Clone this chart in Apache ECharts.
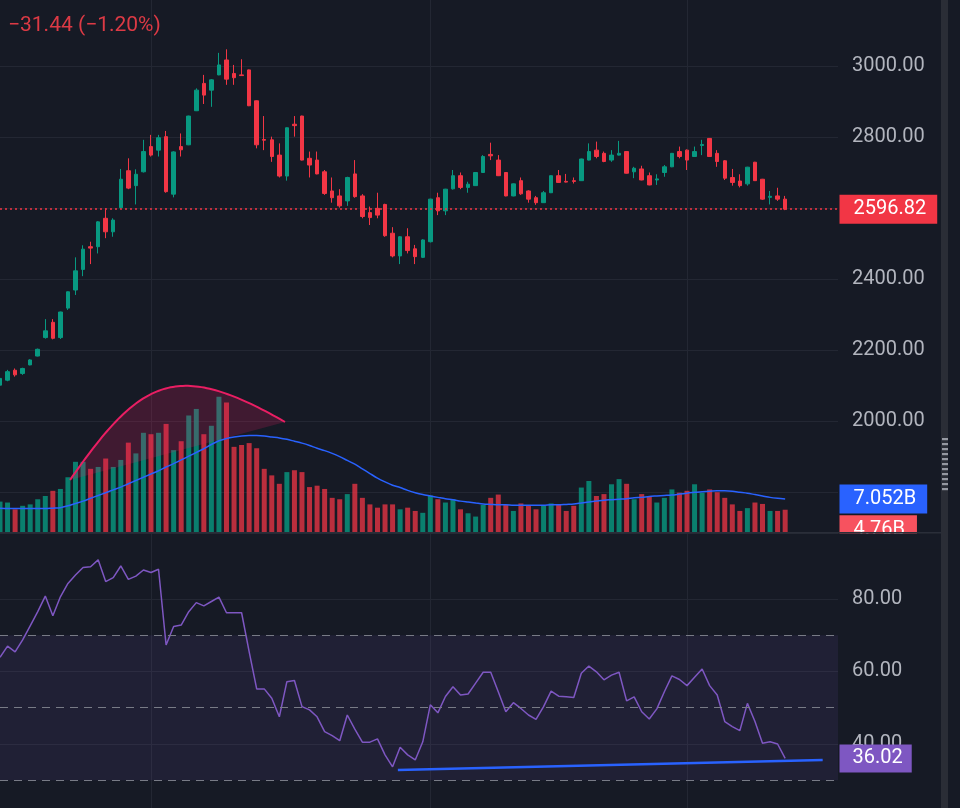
<!DOCTYPE html>
<html><head><meta charset="utf-8">
<script src="https://cdn.jsdelivr.net/npm/echarts@6/dist/echarts.min.js"></script>
<style>html,body{margin:0;padding:0;background:#161a25;}#c{width:960px;height:808px;}</style>
</head><body><div id="c"></div>
<script>
// ---------- data ----------
const slotCount = 112; // visible bar slots (incl. empty right margin)
const categories = Array.from({length: slotCount}, (_, i) => String(i));
const timeGridIdx = [20, 57, 91];

const opens = [2101,2115,2143,2134,2158,2183,2235,2278,2235,2318,
 2369,2427,2491,2491,2571,2533,2601,2705,2663,2702,
 2773,2763,2801,2639,2773,2778,2874,2951,2932,2975,
 3017,2979,2975,2989,2902,2793,2792,2749,2690,2836,
 2859,2740,2735,2702,2648,2634,2620,2696,2634,2587,
 2599,2610,2529,2465,2519,2485,2461,2505,2629,2592,
 2654,2691,2658,2663,2700,2751,2735,2700,2634,2677,
 2648,2629,2615,2643,2691,2675,2677,2677,2735,2763,
 2754,2735,2749,2759,2702,2710,2691,2679,2700,2716,
 2759,2763,2745,2776,2796,2754,2733,2686,2676,2668,
 2729,2681,2630,2634,2625];
const closes = [2120,2139,2130,2148,2172,2202,2254,2233,2307,2364,
 2423,2484,2487,2561,2533,2566,2681,2656,2695,2759,
 2749,2798,2646,2758,2764,2859,2932,2918,2961,3003,
 2963,2967,2973,2888,2778,2791,2745,2690,2826,2832,
 2735,2721,2696,2641,2629,2606,2686,2632,2576,2573,
 2580,2522,2465,2519,2480,2463,2510,2625,2592,2653,
 2691,2658,2667,2700,2745,2747,2691,2634,2668,2640,
 2625,2615,2643,2691,2672,2673,2675,2738,2759,2745,
 2731,2749,2754,2698,2712,2679,2665,2682,2716,2754,
 2745,2735,2759,2779,2745,2731,2684,2672,2663,2715,
 2677,2625,2633,2625,2596.82];
const lows = [2098,2112,2125,2130,2157,2182,2232,2230,2231,2313,
 2355,2408,2442,2472,2515,2519,2598,2653,2610,2700,
 2745,2745,2643,2630,2745,2777,2873,2893,2885,2974,
 2947,2947,2972,2887,2768,2763,2730,2686,2677,2801,
 2734,2686,2695,2637,2615,2601,2606,2629,2571,2552,
 2571,2519,2461,2442,2472,2442,2459,2503,2580,2580,
 2652,2653,2643,2662,2699,2735,2690,2633,2633,2637,
 2615,2609,2614,2642,2671,2672,2669,2676,2734,2740,
 2729,2730,2748,2697,2684,2678,2664,2665,2688,2715,
 2740,2707,2744,2749,2744,2716,2679,2663,2658,2663,
 2676,2623,2610,2620,2594];
const highs = [2124,2144,2148,2150,2174,2204,2287,2287,2308,2365,
 2461,2495,2505,2563,2599,2571,2710,2740,2709,2792,
 2806,2806,2817,2760,2810,2860,2937,2975,2963,3037,
 3047,3003,3019,2990,2903,2859,2801,2782,2827,2859,
 2860,2759,2759,2707,2686,2653,2688,2735,2639,2604,
 2643,2612,2546,2521,2543,2496,2512,2626,2643,2654,
 2707,2700,2674,2701,2749,2784,2749,2701,2669,2686,
 2650,2634,2648,2692,2707,2696,2686,2739,2782,2787,
 2759,2763,2789,2760,2716,2719,2700,2695,2721,2755,
 2773,2765,2773,2792,2797,2763,2735,2710,2695,2716,
 2730,2682,2648,2657,2634];
// volume in billions
const volumes = [6.5,6.3,4.85,5.6,5.9,7.0,7.7,8.8,9.2,11.7,
 15.0,15.0,13.5,13.9,15.7,13.9,15.4,19.1,16.8,21.2,
 20.9,21.2,23.1,17.5,19.4,24.9,26.3,20.9,22.7,28.9,
 27.7,18.2,18.6,19.0,17.9,13.5,12.1,10.3,12.8,13.2,
 12.8,9.6,9.9,9.2,7.3,7.0,8.1,10.3,7.3,5.9,
 5.2,5.9,5.9,4.85,5.2,4.5,4.1,7.8,7.0,6.3,
 7.0,4.85,4.0,3.3,5.8,7.3,8.0,5.8,4.5,6.1,
 5.6,4.85,5.6,6.1,5.8,4.5,5.6,9.5,10.9,7.7,
 8.1,10.2,11.3,10.3,7.0,8.1,7.7,6.3,7.3,9.1,
 8.4,8.8,10.2,8.4,9.1,8.5,7.3,5.9,4.5,5.1,
 6.3,6.0,4.5,4.5,4.76];
const volumeMA = [5.1,5.0,5.0,5.0,5.0,5.0,5.0,5.1,5.2,5.6,
 6.1,6.6,7.2,7.8,8.4,9.0,9.6,10.3,11.0,11.7,
 12.4,13.1,13.9,14.6,15.4,16.2,17.0,17.8,18.7,19.5,
 20.0,20.3,20.5,20.6,20.6,20.5,20.3,20.1,19.8,19.4,
 19.0,18.5,17.9,17.4,16.8,16.1,15.3,14.5,13.5,12.5,
 11.5,10.7,10.0,9.5,8.9,8.4,8.0,7.7,7.4,7.1,
 6.9,6.6,6.4,6.2,6.0,5.9,5.8,5.8,5.7,5.7,
 5.7,5.7,5.7,5.8,5.8,5.9,6.0,6.2,6.4,6.6,
 6.8,6.9,7.0,7.1,7.3,7.4,7.6,7.7,7.8,7.9,
 8.1,8.3,8.5,8.6,8.7,8.8,8.8,8.7,8.5,8.3,
 8.0,7.7,7.4,7.2,7.052];
const rsi = [63.9,67.0,65.4,68.7,72.6,76.5,80.8,75.4,80.6,84.3,
 86.6,88.7,88.9,90.8,84.8,85.9,89.1,85.4,86.3,88.0,
 87.3,88.2,67.3,72.4,72.8,76.5,79.0,78.1,79.3,80.5,
 76.2,76.2,76.2,65.5,55.2,55.2,52.6,47.5,57.2,57.5,
 50.3,49.4,47.5,43.4,42.3,40.9,48.0,44.1,40.5,40.5,
 41.4,37.0,33.7,39.1,37.0,35.6,40.6,50.8,48.6,53.1,
 55.8,53.5,53.8,56.8,59.8,59.8,54.4,48.9,51.4,49.8,
 48.0,46.8,50.3,54.6,53.2,53.0,52.8,59.5,61.5,59.9,
 57.7,59.0,59.8,51.9,53.0,48.9,46.9,49.7,54.4,58.8,
 57.8,56.1,58.4,60.7,56.1,53.5,46.2,44.8,43.7,51.2,
 46.2,40.2,40.6,40.0,36.02];
const changeText = '\u221231.44 (\u22121.20%)';
const priceTicks = {min: 1800, max: 3200, step: 200};
const rsiLevels = [70, 50, 30];
// drawings (in data coordinates: [bar index, value])
const arcAnchors = [[9.27, 1833.8], [18.71, 2122.5], [23.35, 2173.2], [37.75, 1997.2]];
const rsiTrend = [[52.7, 32.8], [108.97, 35.6]];

// ---------- chart ----------
const BG = '#161a25', GRID = '#232733', TXT = '#b2b5be';
const UP = '#089981', DOWN = '#f23645';
const FONT = 'Roboto';
const lastIdx = closes.length - 1;

const candleData = opens.map((o, i) => [o, closes[i], lows[i], highs[i]]);
const volData = volumes.map((v, i) => ({
  value: v,
  itemStyle: {color: closes[i] >= opens[i] ? 'rgba(8,153,129,0.8)' : 'rgba(242,54,69,0.75)'}
}));

const tagLabel = (bg, txt, pad) => ({
  show: true, position: 'end', distance: 1.5,
  backgroundColor: bg, color: '#ffffff', fontSize: 20, fontFamily: FONT,
  lineHeight: 20, padding: pad, formatter: txt
});
const hidden = {axisLine: {show: false}, axisTick: {show: false}, axisLabel: {show: false}};

const chart = echarts.init(document.getElementById('c'), null, {renderer: 'canvas'});
const gridBase = {left: 0, right: 122, outerBoundsMode: 'none', containLabel: false};

const option = {
  backgroundColor: BG,
  animation: false,
  title: {text: changeText, left: 3, top: 10,
    textStyle: {color: '#dc3a45', fontSize: 21, fontWeight: 'normal', fontFamily: FONT}},
  grid: [
    Object.assign({top: -5, height: 497}, gridBase),
    Object.assign({top: 0, height: 532}, gridBase),
    Object.assign({top: 533, height: 283.5}, gridBase)
  ],
  xAxis: [
    Object.assign({type: 'category', gridIndex: 0, data: categories, boundaryGap: false, splitLine: {show: false}}, hidden),
    Object.assign({type: 'category', gridIndex: 1, data: categories, boundaryGap: false,
      splitLine: {show: true, interval: (i) => timeGridIdx.includes(i), lineStyle: {color: GRID, width: 1}}}, hidden),
    Object.assign({type: 'category', gridIndex: 2, data: categories, boundaryGap: false,
      splitLine: {show: true, interval: (i) => timeGridIdx.includes(i), lineStyle: {color: GRID, width: 1}}}, hidden),
    {type: 'value', gridIndex: 0, min: 0, max: slotCount - 1, show: false},
    {type: 'value', gridIndex: 2, min: 0, max: slotCount - 1, show: false}
  ],
  yAxis: [
    {type: 'value', gridIndex: 0, position: 'right', min: priceTicks.min, max: priceTicks.max, interval: priceTicks.step,
      axisLine: {show: false}, axisTick: {show: false},
      axisLabel: {color: TXT, fontSize: 20, fontFamily: FONT, margin: 14, showMinLabel: false, showMaxLabel: false,
        padding: [3, 0, 0, 0], formatter: (v) => v.toFixed(2)},
      splitLine: {show: true, lineStyle: {color: GRID, width: 1}}},
    {type: 'value', gridIndex: 1, min: 0, max: 113.7, show: false, splitLine: {show: false}},
    {type: 'value', gridIndex: 2, position: 'right', min: 20, max: 98.2, interval: 20,
      axisLine: {show: false}, axisTick: {show: false},
      axisLabel: {color: TXT, fontSize: 20, fontFamily: FONT, margin: 14, showMinLabel: false, showMaxLabel: false,
        padding: [3, 0, 0, 0], formatter: (v) => v.toFixed(2)},
      splitLine: {show: true, lineStyle: {color: GRID, width: 1}}}
  ],
  series: [
    {type: 'bar', name: 'Volume', xAxisIndex: 1, yAxisIndex: 1, data: volData, barWidth: 5, clip: false,
      markLine: {silent: true, symbol: ['none', 'none'], animation: false,
        data: [{yAxis: volumes[lastIdx], lineStyle: {color: 'rgba(0,0,0,0)', width: 0},
          label: Object.assign(tagLabel('#f7525f', volumes[lastIdx].toFixed(2) + 'B', [5, 12, 4, 14]), {offset: [0, 20]})}]}},
    {type: 'line', name: 'Vol MA', xAxisIndex: 1, yAxisIndex: 1, data: volumeMA, smooth: 0.3, showSymbol: false, clip: false,
      lineStyle: {color: '#2962ff', width: 1.5},
      markLine: {silent: true, symbol: ['none', 'none'], animation: false,
        data: [{yAxis: volumeMA[lastIdx], lineStyle: {color: 'rgba(0,0,0,0)', width: 0},
          label: tagLabel('#2962ff', volumeMA[lastIdx].toFixed(3) + 'B', [5, 11, 4, 14])}]}},
    {type: 'candlestick', name: 'Price', xAxisIndex: 0, yAxisIndex: 0, data: candleData, barWidth: 4, clip: false,
      itemStyle: {color: UP, color0: DOWN, borderColor: UP, borderColor0: DOWN, borderWidth: 1},
      markLine: {silent: true, symbol: ['none', 'none'], animation: false,
        data: [{yAxis: closes[lastIdx], lineStyle: {color: DOWN, width: 1.5, type: [2, 3]},
          label: tagLabel(DOWN, closes[lastIdx].toFixed(2), [5, 11, 4, 14])}]}},
    {type: 'custom', name: 'Arc', xAxisIndex: 3, yAxisIndex: 0, data: [0], clip: false, z: 5,
      renderItem: function (params, api) {
        const p = arcAnchors.map((a) => api.coord(a));
        const pts = [];
        for (let k = 0; k <= 80; k++) {
          const t = k / 80, u = 1 - t;
          const a = u * u * u, b = 3 * u * u * t, c = 3 * u * t * t, d = t * t * t;
          pts.push([a * p[0][0] + b * p[1][0] + c * p[2][0] + d * p[3][0],
                    a * p[0][1] + b * p[1][1] + c * p[2][1] + d * p[3][1]]);
        }
        return {type: 'group', children: [
          {type: 'polygon', shape: {points: pts}, style: {fill: 'rgba(233,30,99,0.2)', stroke: 'none'}},
          {type: 'polyline', shape: {points: pts}, style: {fill: 'none', stroke: '#e91e63', lineWidth: 2}}
        ]};
      }},
    {type: 'line', name: 'RSI', xAxisIndex: 2, yAxisIndex: 2, data: rsi, showSymbol: false, clip: false,
      lineStyle: {color: '#7e57c2', width: 1.5},
      markArea: {silent: true, itemStyle: {color: 'rgba(126,87,194,0.1)'},
        data: [[{yAxis: rsiLevels[2]}, {yAxis: rsiLevels[0]}]]},
      markLine: {silent: true, symbol: ['none', 'none'], animation: false,
        data: rsiLevels.map((l) => ({yAxis: l, label: {show: false},
          lineStyle: {color: '#787b86', width: 1, type: [8, 6]}})).concat([
          {yAxis: rsi[lastIdx], lineStyle: {color: 'rgba(0,0,0,0)', width: 0},
           label: tagLabel('#7e57c2', rsi[lastIdx].toFixed(2), [4, 9, 4, 13])}])}},
    {type: 'line', name: 'Trend', xAxisIndex: 4, yAxisIndex: 2, data: rsiTrend, showSymbol: false, clip: false,
      lineStyle: {color: '#2962ff', width: 2.5}, z: 4}
  ],
  graphic: (function () {
    const g = [
      {type: 'rect', z: 100, shape: {x: 838, y: 533.5, width: 103, height: 16}, style: {fill: BG}},
      {type: 'rect', z: 101, shape: {x: 0, y: 532, width: 941, height: 1.6}, style: {fill: '#2a2e39'}},
      {type: 'rect', z: 101, shape: {x: 941, y: 0, width: 7, height: 808}, style: {fill: '#2a2d36'}}
    ];
    for (let k = 0; k < 11; k++) {
      g.push({type: 'rect', z: 102, shape: {x: 942, y: 438 + k * 5, width: 6, height: 2.2}, style: {fill: '#9598a1'}});
    }
    return g;
  })()
};
chart.setOption(option);
</script></body></html>
